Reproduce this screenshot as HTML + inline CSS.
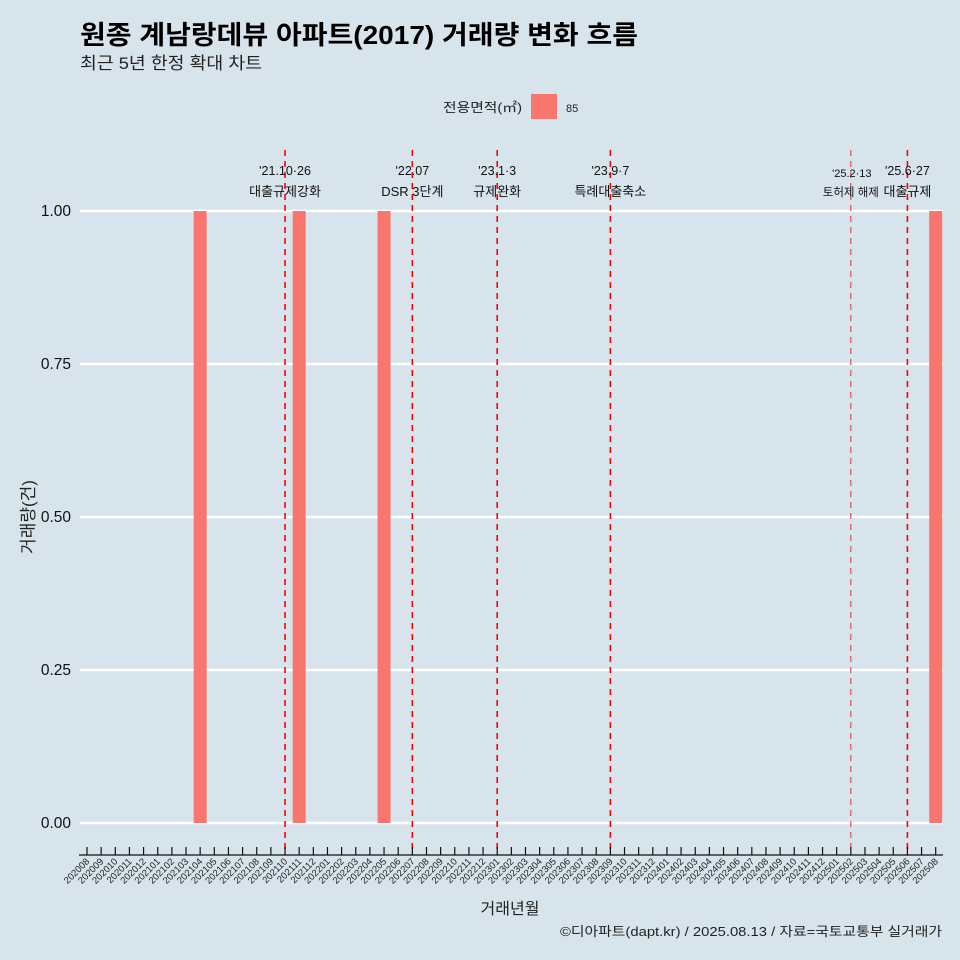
<!DOCTYPE html>
<html><head><meta charset="utf-8"><style>
body{margin:0;background:#d7e4eb;}
svg{display:block;font-family:"Liberation Sans","Noto Sans CJK KR",sans-serif;}
</style></head><body>
<svg width="960" height="960" viewBox="0 0 960 960" xmlns="http://www.w3.org/2000/svg">
<rect width="960" height="960" fill="#d7e4eb"/>
<text x="80" y="44" font-size="26" font-weight="bold" fill="#000" textLength="558" lengthAdjust="spacingAndGlyphs">원종 계남랑데뷰 아파트(2017) 거래량 변화 흐름</text>
<text x="80" y="69" font-size="17" fill="#222" textLength="182" lengthAdjust="spacingAndGlyphs">최근 5년 한정 확대 차트</text>
<g>
<text x="522" y="112" font-size="13" text-anchor="end" fill="#222" textLength="79" lengthAdjust="spacingAndGlyphs">전용면적(㎡)</text>
<rect x="531" y="94" width="26" height="25" fill="#f8766d"/>
<text x="566" y="112" font-size="11" fill="#222">85</text>
</g>
<g id="grid"></g><g id="bars"></g><g id="vlines"></g><g id="xaxis"></g>
<text x="510" y="914" font-size="16" text-anchor="middle" fill="#222">거래년월</text>
<text transform="translate(34,517) rotate(-90)" font-size="17" text-anchor="middle" fill="#222">거래량(건)</text>
<text x="942" y="936" font-size="13" text-anchor="end" fill="#222" textLength="382" lengthAdjust="spacingAndGlyphs">©디아파트(dapt.kr) / 2025.08.13 / 자료=국토교통부 실거래가</text>
</svg>
<script>
const months=[];for(let y=2020,m=8;!(y===2025&&m===9);){months.push(''+y+String(m).padStart(2,'0'));m++;if(m>12){m=1;y++;}}
const yTicks=[0,0.25,0.5,0.75,1.0];
const yTickLabels=["0.00","0.25","0.50","0.75","1.00"];
const barMonths=["202104","202111","202205","202508"];
const barValues=[1,1,1,1];
const eventMonths=["202110","202207","202301","202309","202502","202506"];
const eventLine1=["'21.10·26","'22.07","'23.1·3","'23.9·7","'25.2·13","'25.6·27"];
const eventLine2=["대출규제강화","DSR 3단계","규제완화","특례대출축소","토허제 해제","대출규제"];
const NS='http://www.w3.org/2000/svg';
const x0=87,x1=935.7;
const xs=m=>x0+months.indexOf(m)*(x1-x0)/(months.length-1);
const ys=v=>823-v*(823-211);
function mk(t,a,p){const e=document.createElementNS(NS,t);for(const k in a)e.setAttribute(k,a[k]);p.appendChild(e);return e;}
const grid=document.getElementById('grid');
yTicks.forEach((v,i)=>{
 const l=mk('line',{x1:80,x2:943,y1:ys(v),y2:ys(v),stroke:'#fff','stroke-width':2.6},grid);
 
 
 const t=mk('text',{x:71,y:ys(v)+5,'font-size':15.5,'text-anchor':'end',fill:'#111'},grid);
 t.textContent=yTickLabels[i];
 
 
});
const bars=document.getElementById('bars');
barMonths.forEach((m,i)=>{
 const r=mk('rect',{x:xs(m)-6.5,y:ys(barValues[i]),width:13,height:ys(0)-ys(barValues[i]),fill:'#f8766d'},bars);
 
 
});
const vl=document.getElementById('vlines');
eventMonths.forEach((m,i)=>{
 const x=xs(m);const thin=m==='202502';
 const l=mk('line',{x1:x,x2:x,y1:150,y2:855,stroke:thin?'#e03030':'#ff0000','stroke-width':thin?1:1.6,'stroke-dasharray':'6,5'},vl);
 
 
 const fs=thin?11:12.5;
 const t1=mk('text',{x:thin?x+1:x,y:thin?177:175,'font-size':fs,'text-anchor':'middle',fill:'#111'},vl);
 t1.textContent=eventLine1[i];
 
 
 const t2=mk('text',{x:x,y:196,'font-size':fs+0.5,'text-anchor':'middle',fill:'#111'},vl);
 t2.textContent=eventLine2[i];
 
 
});
const xa=document.getElementById('xaxis');
const ax=mk('line',{x1:79,x2:943,y1:855,y2:855,stroke:'#111','stroke-width':1.3},xa);


months.forEach(m=>{
 const x=xs(m);
 const tk=mk('line',{x1:x,x2:x,y1:847,y2:855,stroke:'#111','stroke-width':1.2},xa);
 
 
 const t=mk('text',{x:x+3,y:862,'font-size':9.5,'text-anchor':'end',fill:'#222',transform:`rotate(-45 ${x+3} 862)`},xa);
 t.textContent=m;
 
 
});
</script>
</body></html>
